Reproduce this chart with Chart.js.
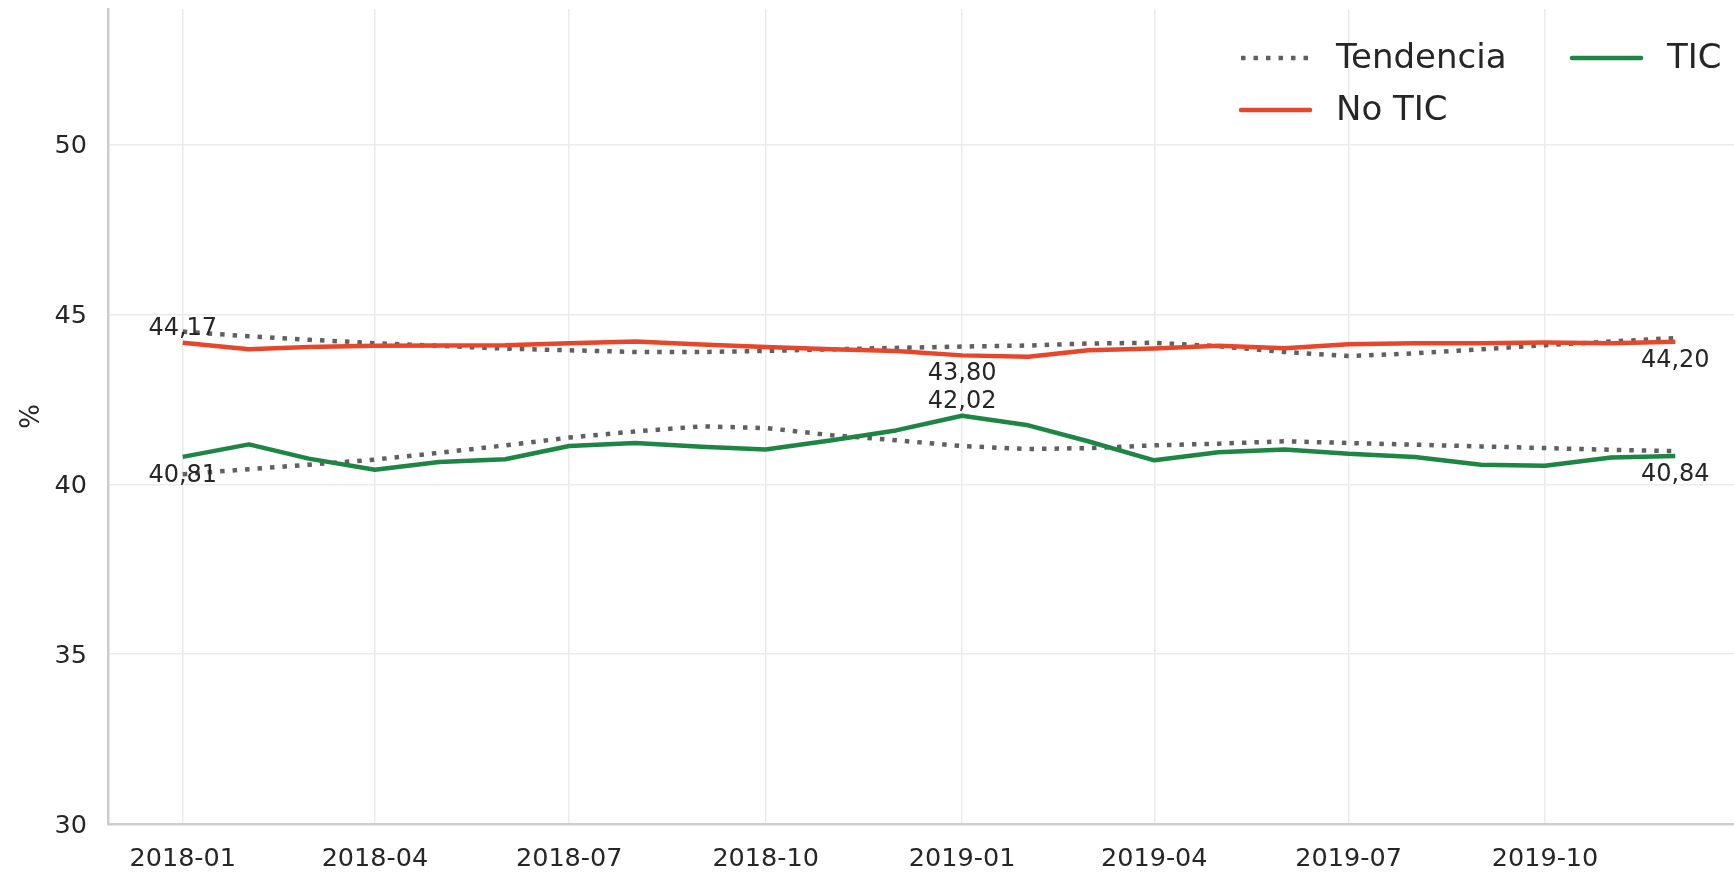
<!DOCTYPE html>
<html><head><meta charset="utf-8">
<script src="https://cdn.jsdelivr.net/npm/chart.js@4.4.0/dist/chart.umd.min.js"></script>
<style>html,body{margin:0;padding:0;background:#fff;} #wrap{width:1734px;height:874px;position:relative}</style>
</head><body><div id="wrap"><canvas id="c" width="1734" height="874"></canvas></div>
<script>
const months = ['2018-01','2018-02','2018-03','2018-04','2018-05','2018-06','2018-07','2018-08','2018-09','2018-10','2018-11','2018-12',
                '2019-01','2019-02','2019-03','2019-04','2019-05','2019-06','2019-07','2019-08','2019-09','2019-10','2019-11','2019-12'];
const noTic = [44.17,43.98,44.05,44.08,44.09,44.10,44.16,44.21,44.12,44.05,43.98,43.93,
               43.80,43.76,43.95,44.00,44.08,44.01,44.13,44.16,44.16,44.18,44.16,44.20];
const tic = [40.81,41.18,40.76,40.43,40.66,40.74,41.13,41.22,41.11,41.03,41.30,41.59,
             42.02,41.74,41.27,40.71,40.95,41.03,40.90,40.81,40.58,40.55,40.79,40.84];
const trendNoTic = [44.50,44.36,44.26,44.16,44.08,44.00,43.95,43.90,43.90,43.93,43.98,44.02,
                    44.06,44.09,44.15,44.17,44.07,43.90,43.78,43.86,43.98,44.10,44.21,44.31];
const trendTic = [40.30,40.45,40.58,40.73,40.93,41.15,41.38,41.56,41.71,41.66,41.45,41.30,
                  41.13,41.04,41.07,41.15,41.20,41.27,41.22,41.17,41.12,41.07,41.02,40.98];
const xTickLabels = ['2018-01','2018-04','2018-07','2018-10','2019-01','2019-04','2019-07','2019-10'];
const yTicks = [30,35,40,45,50];
const labelIdx = [0,12,23];
const labelSideNoTic = [-1,1,1];
const labelSideTic = [1,-1,1];

const DAY = 86400000;
const base = Date.UTC(2018,0,1);
function toDay(s){ const [y,m] = s.split('-').map(Number); return (Date.UTC(y,m-1,1)-base)/DAY; }
const xs = months.map(toDay);
const pts = arr => arr.map((v,i)=>({x:xs[i], y:v}));

const TXT = '#262626';
const RED = '#E8462A', GREEN = '#1E8645', GRAY = '#606060';

Chart.defaults.font.family = "'DejaVu Sans', sans-serif";
Chart.defaults.color = TXT;

const dotted = {borderColor: GRAY, borderWidth: 4.5, borderDash:[4.5,8], borderCapStyle:'butt'};

const datasets = [
  Object.assign({label:'Tendencia', data:pts(trendNoTic), order:2, legend:true}, dotted),
  {label:'No TIC', data:pts(noTic), borderColor:RED, borderWidth:4.5, order:0, legend:true, annot:labelSideNoTic},
  {label:'TIC', data:pts(tic), borderColor:GREEN, borderWidth:4.5, order:0, legend:true, annot:labelSideTic},
  Object.assign({label:'Tendencia TIC', data:pts(trendTic), order:2, legend:false}, dotted)
];
datasets.forEach(d=>{ d.pointRadius=0; d.pointHoverRadius=0; d.tension=0; d.fill=false; d.borderJoinStyle='round'; });

const annotPlugin = {
  id:'annot',
  afterDatasetsDraw(chart){
    const ctx = chart.ctx, xS = chart.scales.x, yS = chart.scales.y;
    ctx.save();
    ctx.font = "24px 'DejaVu Sans'";
    ctx.fillStyle = TXT; ctx.textAlign='center'; ctx.textBaseline='middle';
    chart.data.datasets.forEach(ds=>{
      if(!ds.annot) return;
      labelIdx.forEach((idx,k)=>{
        const p = ds.data[idx];
        const px = xS.getPixelForValue(p.x), py = yS.getPixelForValue(p.y);
        const side = ds.annot[k];
        ctx.fillText(p.y.toFixed(2).replace('.',','), px, py + side*16.5 + 2);
      });
    });
    ctx.restore();
  }
};

const legendPlugin = {
  id:'customLegend',
  afterDraw(chart){
    const ctx = chart.ctx;
    const items = chart.data.datasets.filter(d=>d.legend);
    const cols = [{hx:1241, tx:1336}, {hx:1572, tx:1667}];
    const rows = [58, 110];
    ctx.save();
    ctx.font = "34px 'DejaVu Sans'";
    ctx.textBaseline='middle'; ctx.textAlign='left';
    items.forEach((d,i)=>{
      const c = cols[Math.floor(i/2)], y = rows[i%2];
      ctx.strokeStyle = d.borderColor; ctx.lineWidth = d.borderWidth;
      ctx.setLineDash(d.borderDash || []);
      ctx.lineCap = d.borderDash ? 'butt' : 'round';
      ctx.beginPath(); ctx.moveTo(c.hx, y); ctx.lineTo(c.hx+69, y); ctx.stroke();
      ctx.setLineDash([]);
      ctx.fillStyle = TXT;
      ctx.fillText(d.label, c.tx, y+1);
    });
    ctx.restore();
  }
};

new Chart(document.getElementById('c'), {
  type:'line',
  data:{datasets},
  plugins:[annotPlugin, legendPlugin],
  options:{
    responsive:false, animation:false, devicePixelRatio:1,
    layout:{padding:{top:9,right:0,left:0,bottom:0}},
    plugins:{legend:{display:false}, tooltip:{enabled:false}},
    scales:{
      x:{type:'linear', min:-35, max:726.5,
         afterBuildTicks(s){ s.ticks = xTickLabels.map(l=>({value:toDay(l)})); },
         afterFit(s){ s.height = 50; s.paddingLeft = 0; s.paddingRight = 0; },
         ticks:{callback:(v)=>{ const i = xTickLabels.findIndex(l=>toDay(l)===v); return i>=0?xTickLabels[i]:''; },
                font:{size:25.5}, color:TXT, padding:20, maxRotation:0, autoSkip:false},
         grid:{color:'#ebebeb', lineWidth:1.5, drawTicks:false},
         border:{display:true, color:'#cccccc', width:2.5}
      },
      y:{type:'linear', min:30, max:54,
         afterBuildTicks(s){ s.ticks = yTicks.map(v=>({value:v})); },
         afterFit(s){ s.width = 108; s.paddingTop = 0; s.paddingBottom = 0; },
         ticks:{font:{size:25.5}, color:TXT, padding:21, labelOffset:2},
         grid:{color:'#ebebeb', lineWidth:1.5, drawTicks:false},
         border:{display:true, color:'#cccccc', width:2.5},
         title:{display:true, text:'%', font:{size:26}, color:TXT, padding:{top:17,bottom:0}}
      }
    }
  }
});
</script></body></html>
